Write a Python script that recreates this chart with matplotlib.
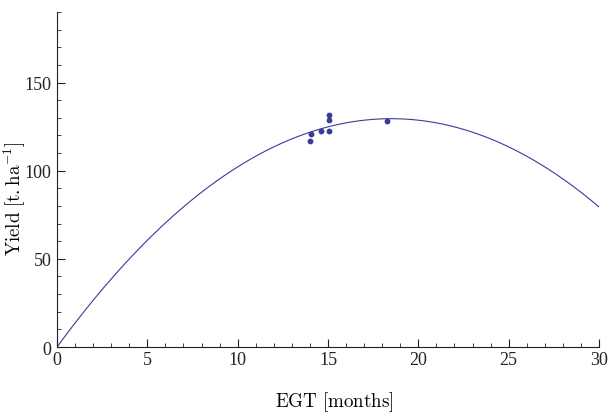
import numpy as np
import matplotlib
matplotlib.use("Agg")
import matplotlib.pyplot as plt
from matplotlib.ticker import MultipleLocator

# Observed yield versus EGT
egt_obs = [13.99, 14.07, 14.6, 15.05, 15.05, 15.07, 18.25]
yield_obs = [116.6, 121.0, 122.7, 131.4, 128.6, 122.5, 128.0]

# Fitted quadratic model: yield = a*EGT + b*EGT^2
coef_a = 14.0
coef_b = -0.3784

x_ticks = [0, 5, 10, 15, 20, 25, 30]
y_ticks = [0, 50, 100, 150]

plt.rcParams["mathtext.fontset"] = "cm"
plt.rcParams["font.family"] = ["Liberation Serif", "DejaVu Serif"]

fig = plt.figure(figsize=(6.11, 4.14), dpi=100)
ax = fig.add_axes([0.0933, 0.1594, 0.8871, 0.8092])

color = "#3b3b9b"
xs = np.linspace(0, 30, 400)
ax.plot(xs, coef_a * xs + coef_b * xs ** 2, color=color, lw=0.8)
ax.plot(egt_obs, yield_obs, "o", color=color, ms=4.2, mec="none")

ax.set_xlim(0, 30)
ax.set_ylim(0, 190)
ax.set_xticks(x_ticks)
ax.set_yticks(y_ticks)
ax.xaxis.set_minor_locator(MultipleLocator(1))
ax.yaxis.set_minor_locator(MultipleLocator(10))

for s in ("top", "right"):
    ax.spines[s].set_visible(False)
for s in ("left", "bottom"):
    ax.spines[s].set_linewidth(0.8)
    ax.spines[s].set_color("#222222")

ax.tick_params(which="major", direction="in", length=6, width=0.8,
               labelsize=13, colors="#222222", pad=3)
ax.tick_params(which="minor", direction="in", length=3, width=0.6,
               colors="#222222")
ax.tick_params(axis="y", pad=4)

ax.set_xlabel(r"$\mathrm{EGT\ [months]}$", fontsize=13.7)
ax.set_ylabel(r"$\mathrm{Yield\ [t.ha^{-1}]}$", fontsize=13.7)
ax.xaxis.set_label_coords(0.511, -0.127)
ax.yaxis.set_label_coords(-0.053, 0.446)

fig.savefig("out.png", dpi=100)
